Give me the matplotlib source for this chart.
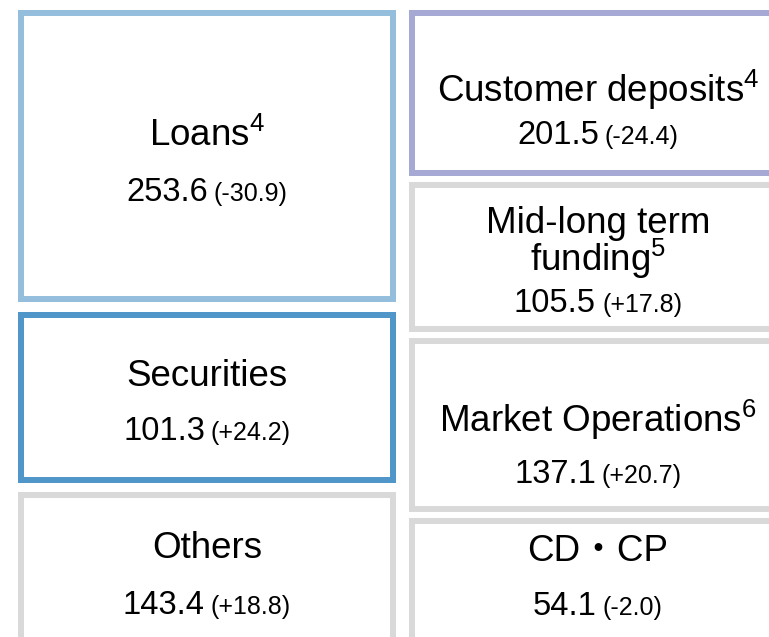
import matplotlib
matplotlib.use("Agg")
import matplotlib.pyplot as plt
from matplotlib.patches import Rectangle

plt.rcParams['font.family'] = ['Liberation Sans', 'Noto Sans CJK JP', 'DejaVu Sans']
plt.rcParams['mathtext.fontset'] = 'custom'
plt.rcParams['mathtext.rm'] = 'Liberation Sans'
plt.rcParams['mathtext.it'] = 'Liberation Sans'

# ---- data ----
names = ["Loans", "Securities", "Others",
         "Customer deposits", "Mid-long term\nfunding", "Market Operations", "CD・CP"]
notes = ["4", "", "", "4", "5", "6", ""]
values = [253.6, 101.3, 143.4, 201.5, 105.5, 137.1, 54.1]
changes = [-30.9, 24.2, 18.8, -24.4, 17.8, 20.7, -2.0]

# ---- layout (pixels, outer border box) ----
box_x0 = [18, 18, 18, 409, 409, 409, 409]
box_x1 = [396, 396, 396, 787, 787, 787, 787]
box_y0 = [10, 312, 492, 10, 182, 338, 518]
box_y1 = [302, 483, 720, 176, 332, 512, 720]
colors = ["#95BEDC", "#5096C8", "#D9D9D9", "#A5A9D3", "#D9D9D9", "#D9D9D9", "#D9D9D9"]
title_base = [[146], [386], [558], [102], [233, 271], [432], [561]]
value_base = [201, 440, 614, 144, 312, 483, 615]

W, H = 769, 637
fig = plt.figure(figsize=(W / 100, H / 100), dpi=100)
ax = fig.add_axes([0, 0, 1, 1])
ax.set_xlim(0, W)
ax.set_ylim(H, 0)
ax.axis('off')

lw_px = 6
lw_pt = lw_px * 72 / 100
TITLE_FS = 26.5
VAL_FS = 23.5
CHG_FS = 18
GAP = 6  # pixels between value and change

for i in range(len(names)):
    x0, x1 = box_x0[i] + lw_px / 2, box_x1[i] - lw_px / 2
    y0, y1 = box_y0[i] + lw_px / 2, box_y1[i] - lw_px / 2
    ax.add_patch(Rectangle((x0, y0), x1 - x0, y1 - y0, facecolor='white',
                           edgecolor=colors[i], linewidth=lw_pt, joinstyle='miter'))

fig.canvas.draw()
renderer = fig.canvas.get_renderer()
inv = ax.transData.inverted()

def width_data(t):
    bb = t.get_window_extent(renderer)
    (a, _), (b, _) = inv.transform([[bb.x0, 0], [bb.x1, 0]])
    return abs(b - a)

for i in range(len(names)):
    cx = (box_x0[i] + box_x1[i]) / 2
    lines = names[i].split("\n")
    for j, line in enumerate(lines):
        s = line
        if j == len(lines) - 1 and notes[i]:
            s = line + r"$^{\mathrm{" + notes[i] + "}}$"
        ax.text(cx, title_base[i][j], s, fontsize=TITLE_FS, ha='center', va='baseline')
    t1 = ax.text(0, value_base[i], f"{values[i]:.1f}", fontsize=VAL_FS, ha='left', va='baseline')
    t2 = ax.text(0, value_base[i], f"({changes[i]:+.1f})", fontsize=CHG_FS, ha='left', va='baseline')
    fig.canvas.draw()
    w1 = width_data(t1)
    w2 = width_data(t2)
    total = w1 + GAP + w2
    start = cx - total / 2
    t1.set_x(start)
    t2.set_x(start + w1 + GAP)

fig.savefig("out.png", dpi=100)
